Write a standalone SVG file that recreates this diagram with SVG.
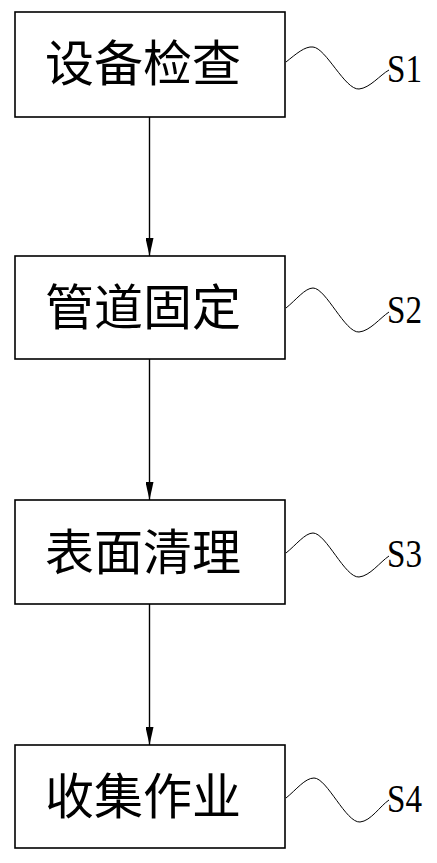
<svg xmlns="http://www.w3.org/2000/svg" width="437" height="863" viewBox="0 0 437 863">
<style>
.box{fill:#fff;stroke:#000;stroke-width:1.6}
.t{font-family:"Noto Sans CJK SC","Noto Sans CJK JP",sans-serif;font-size:49px;text-anchor:middle;fill:#000}
.s{font-family:"Liberation Serif",serif;font-size:40px;fill:#000}
.w{fill:none;stroke:#000;stroke-width:1}
.c{stroke:#000;stroke-width:1.4;fill:none}
</style>
<defs>
<marker id="ah" markerWidth="18" markerHeight="8" refX="18" refY="4" orient="auto" markerUnits="userSpaceOnUse" viewBox="0 0 18 8">
<path d="M0,0 L18,4 L0,8 Z" fill="#000"/>
</marker>
</defs>
<g id="connectors">
<line class="c" x1="149.5" y1="117" x2="149.5" y2="256" marker-end="url(#ah)"/>
<line class="c" x1="149.5" y1="359" x2="149.5" y2="500" marker-end="url(#ah)"/>
<line class="c" x1="149.5" y1="604" x2="149.5" y2="745" marker-end="url(#ah)"/>
</g>
<g id="n1">
<rect class="box" x="15" y="12" width="270" height="105"/>
<text class="t" x="143" y="81">设备检查</text>
<path class="w" d="M286,62 C296,54 305,46 313,47 C326,48 345,90 359,89 C370,88 380,75 389,70"/>
<text class="s" x="387" y="82" textLength="35" lengthAdjust="spacingAndGlyphs">S1</text>
</g>
<g id="n2">
<rect class="box" x="15" y="256" width="270" height="103"/>
<text class="t" x="143" y="325">管道固定</text>
<path class="w" d="M286,308 C296,300 305,288 313,288 C326,288 345,333 359,332 C370,331 380,318 389,312"/>
<text class="s" x="387" y="323" textLength="35" lengthAdjust="spacingAndGlyphs">S2</text>
</g>
<g id="n3">
<rect class="box" x="15" y="500" width="270" height="104"/>
<text class="t" x="143" y="570">表面清理</text>
<path class="w" d="M286,553 C296,545 305,533 313,533 C326,533 345,578 359,577 C370,576 380,562 389,556"/>
<text class="s" x="387" y="567" textLength="35" lengthAdjust="spacingAndGlyphs">S3</text>
</g>
<g id="n4">
<rect class="box" x="15" y="745" width="270" height="103"/>
<text class="t" x="143" y="814">收集作业</text>
<path class="w" d="M286,798 C296,790 305,778 314,778 C327,778 346,823 360,822 C371,821 380,806 389,800"/>
<text class="s" x="387" y="812" textLength="35" lengthAdjust="spacingAndGlyphs">S4</text>
</g>
</svg>
